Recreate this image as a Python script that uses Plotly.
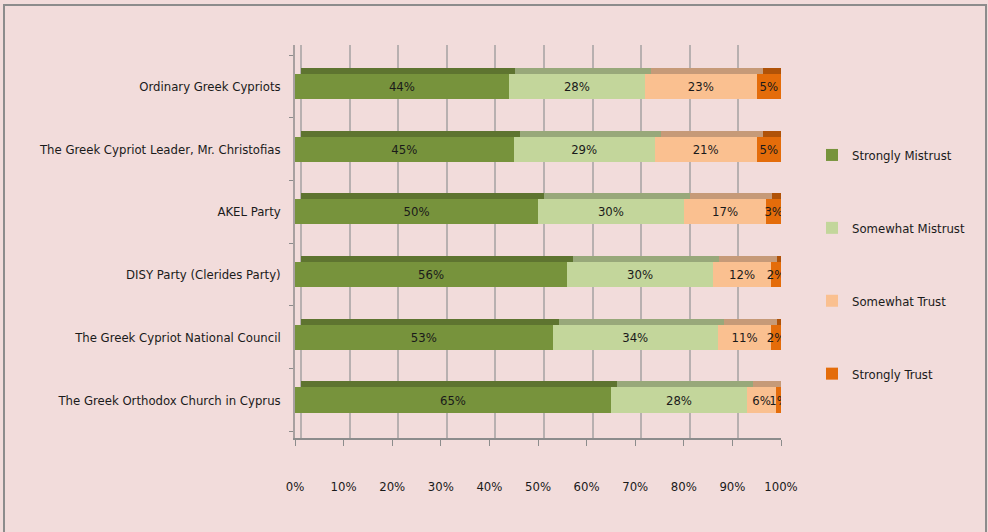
import plotly.graph_objects as go

categories = [
    "Ordinary Greek Cypriots",
    "The Greek Cypriot Leader, Mr. Christofias",
    "AKEL Party",
    "DISY Party (Clerides Party)",
    "The Greek Cypriot National Council",
    "The Greek Orthodox Church in Cyprus",
]
strongly_mistrust = [44, 45, 50, 56, 53, 65]
somewhat_mistrust = [28, 29, 30, 30, 34, 28]
somewhat_trust = [23, 21, 17, 12, 11, 6]
strongly_trust = [5, 5, 3, 2, 2, 1]
series_names = ["Strongly Mistrust", "Somewhat Mistrust", "Somewhat Trust", "Strongly Trust"]
tick_vals = [0, 10, 20, 30, 40, 50, 60, 70, 80, 90, 100]
tick_text = [f"{v}%" for v in tick_vals]

front_colors = ["#77933c", "#c3d69b", "#fac090", "#e46c0a"]
top_colors = ["#5e7430", "#98a87a", "#c69a78", "#b05208"]

W, H = 988, 532
FONT = "Liberation Sans Narrow, DejaVu Sans Condensed, Arial Narrow, sans-serif"

# pixel geometry of the plot area
x_left, x_right = 295, 781
y_top, y_bot = 45, 438
row_step = 62.7
bottom_center = 400
y_lo = -(y_bot - bottom_center) / row_step
y_hi = (bottom_center - y_top) / row_step
dy = 6 / row_step
dx = 6 * 100 / (x_right - x_left)

fig = go.Figure()
all_series = [strongly_mistrust, somewhat_mistrust, somewhat_trust, strongly_trust]

# depth faces (drawn first, shifted up/right)
for name, vals, col in zip(series_names, all_series, top_colors):
    fig.add_trace(go.Bar(
        y=categories, x=vals, orientation="h", name=name,
        marker=dict(color=col, line=dict(width=0)), width=0.4,
        xaxis="x", yaxis="y", showlegend=False, hoverinfo="skip",
    ))

# front faces
for name, vals, col in zip(series_names, all_series, front_colors):
    fig.add_trace(go.Bar(
        y=categories, x=vals, orientation="h", name=name,
        marker=dict(color=col, line=dict(width=0)), width=0.4,
        text=[f"{v}%" for v in vals], textposition="inside",
        insidetextanchor="middle", textangle=0, constraintext="none",
        textfont=dict(family=FONT, size=13, color="#1a1a1a"),
        xaxis="x2", yaxis="y2", legendgroup=name,
    ))

cat_array = list(reversed(categories))
xdom = [x_left / W, x_right / W]
ydom = [1 - y_bot / H, 1 - y_top / H]

fig.update_layout(
    width=W, height=H,
    margin=dict(l=0, r=0, t=0, b=0, autoexpand=False),
    paper_bgcolor="#f2dcdb", plot_bgcolor="rgba(0,0,0,0)",
    barmode="stack",
    font=dict(family=FONT, size=13, color="#1a1a1a"),
    xaxis=dict(domain=xdom, range=[0 - dx, 100 - dx], tickvals=tick_vals,
               showticklabels=False, showgrid=True, gridcolor="#b8b0b0",
               gridwidth=2, zeroline=False, showline=False, automargin=False),
    yaxis=dict(domain=ydom, type="category", categoryorder="array",
               categoryarray=cat_array, range=[y_lo - dy, y_hi - dy],
               showticklabels=False, showgrid=False, zeroline=False, automargin=False),
    xaxis2=dict(overlaying="x", domain=xdom, range=[0, 100], tickvals=tick_vals,
                ticktext=tick_text, showgrid=False, zeroline=False,
                showline=True, linecolor="#8c8c8c", linewidth=1.5,
                ticks="outside", ticklen=6, tickcolor="#8c8c8c",
                ticklabelstandoff=30, side="bottom", anchor="y2", automargin=False,
                tickfont=dict(family=FONT, size=13, color="#1a1a1a")),
    yaxis2=dict(overlaying="y", domain=ydom, type="category",
                categoryorder="array", categoryarray=cat_array,
                range=[y_lo, y_hi], showgrid=False, zeroline=False,
                showline=True, linecolor="#a8a0a0", linewidth=1.5,
                ticks="outside", ticklen=4, tickcolor="#8c8c8c",
                tickson="boundaries", ticklabelstandoff=10, anchor="x2", automargin=False,
                tickfont=dict(family=FONT, size=13, color="#1a1a1a")),
    legend=dict(x=812 / W, y=1 - 140 / H, xanchor="left", yanchor="top",
                bgcolor="rgba(0,0,0,0)", tracegroupgap=53, itemwidth=30,
                font=dict(family=FONT, size=13, color="#1a1a1a")),
    shapes=[dict(type="rect", xref="paper", yref="paper",
                 x0=4 / W, x1=986 / W, y0=-0.05, y1=1 - 5 / H,
                 line=dict(color="#8c8c8c", width=2), layer="below")],
)

fig.write_html("out.html", config={"displayModeBar": False},
               post_script="document.body.style.margin='0';")
